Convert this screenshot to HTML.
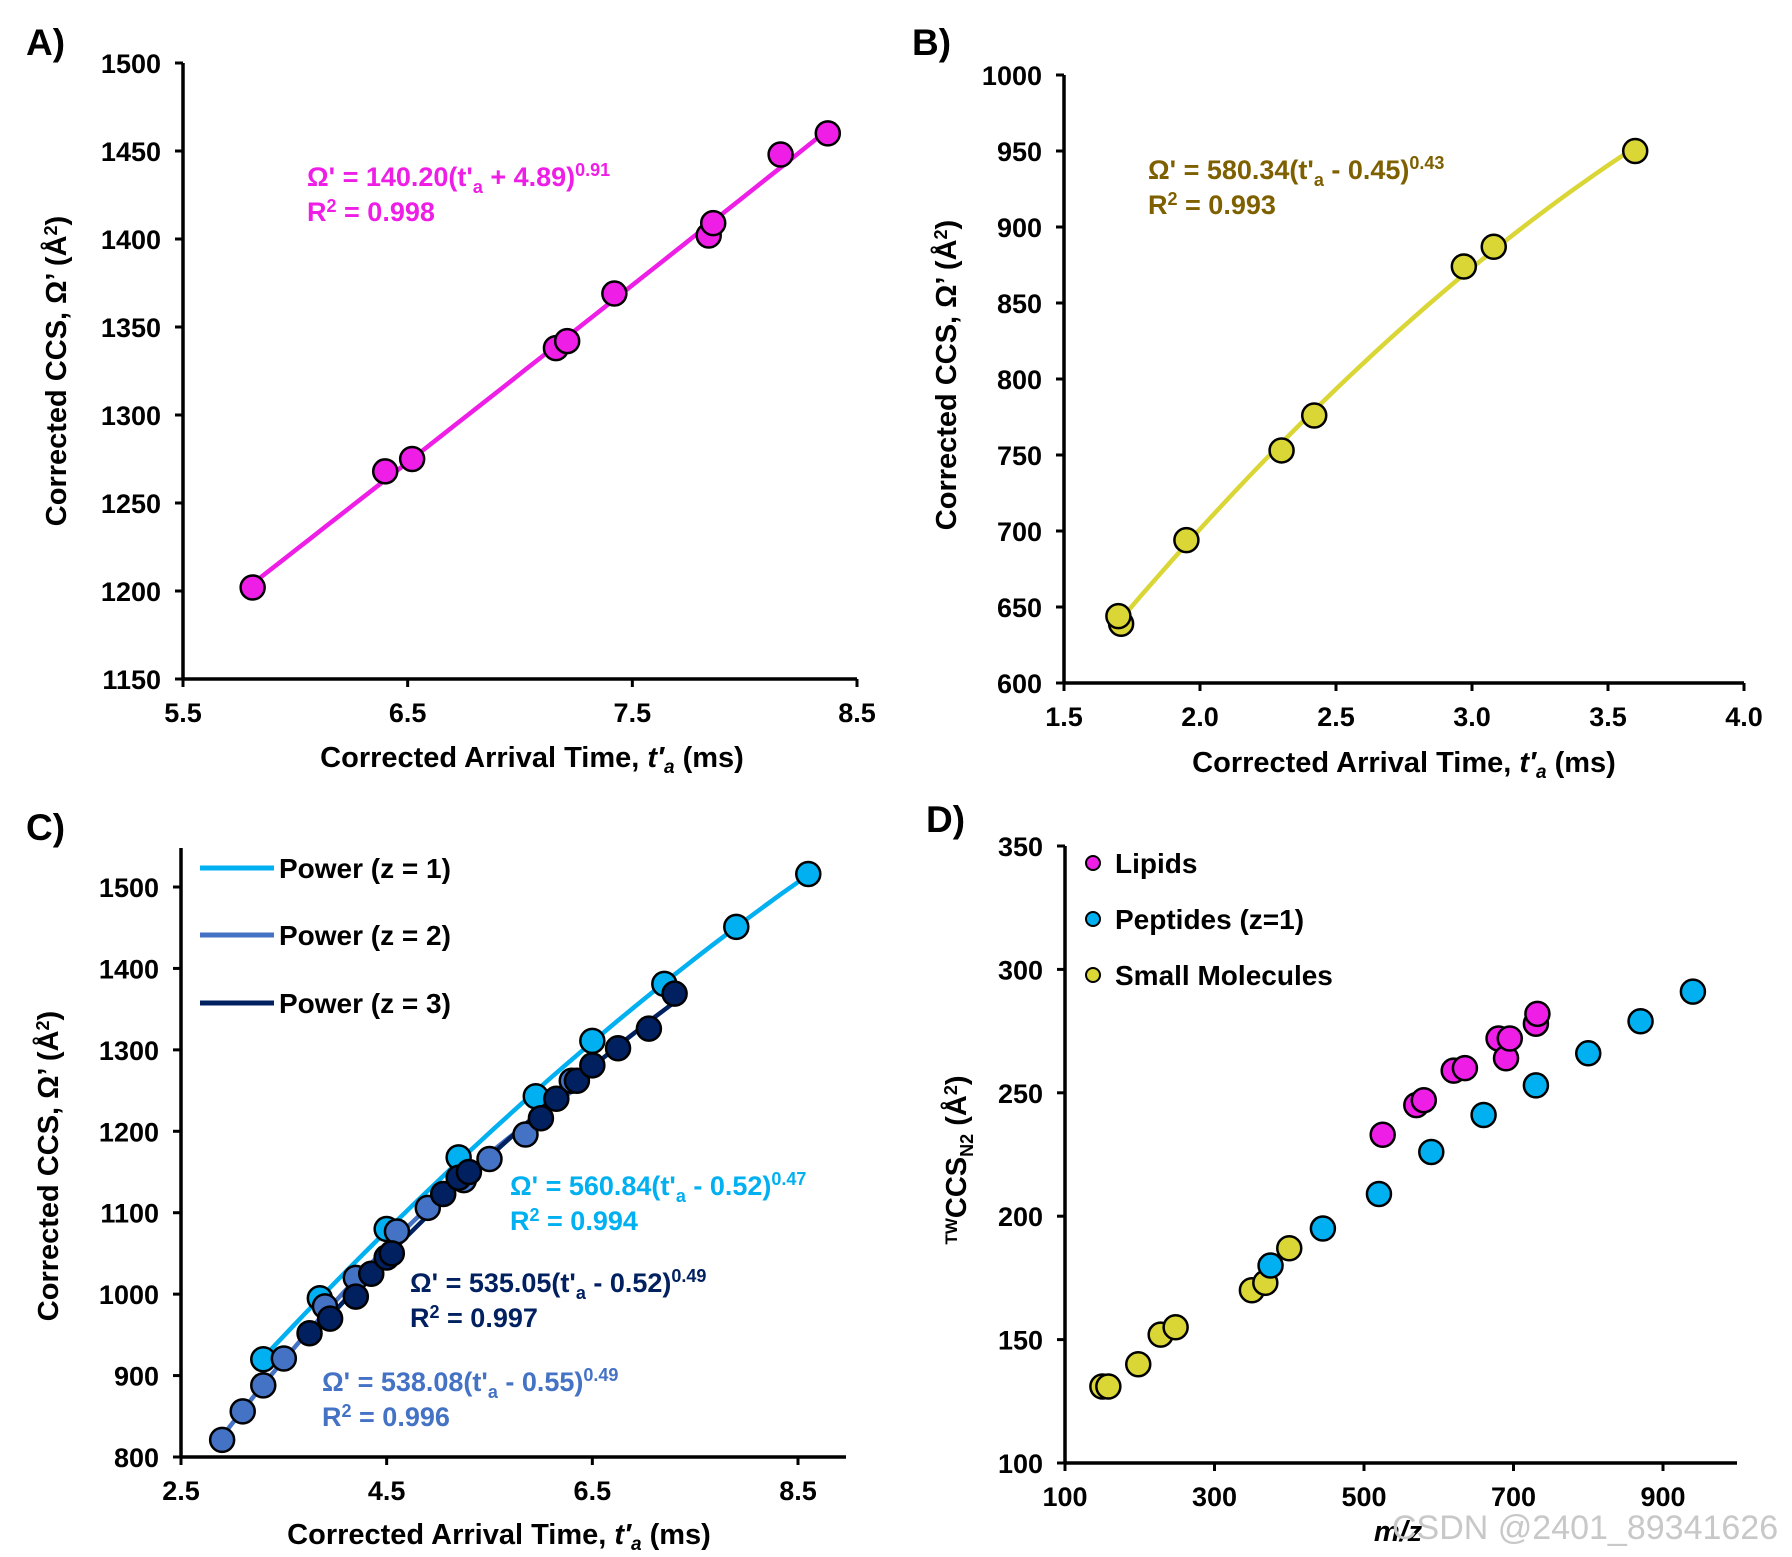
<!DOCTYPE html>
<html><head><meta charset="utf-8">
<style>
html,body{margin:0;padding:0;background:#fff;}
svg{display:block;font-family:"Liberation Sans",Arial,sans-serif;font-weight:bold;}
</style></head>
<body>
<svg id="fig" width="1792" height="1557" viewBox="0 0 1792 1557" xmlns="http://www.w3.org/2000/svg"></svg>
<script>
// ---- Data ----
const aX = [5.81,6.40,6.52,7.16,7.21,7.42,7.84,7.86,8.16,8.37];
const aY = [1202,1268,1275,1338,1342,1369,1402,1409,1448,1460];
const aXTicks = ["5.5","6.5","7.5","8.5"];
const aYTicks = ["1150","1200","1250","1300","1350","1400","1450","1500"];

const bX = [1.71,1.70,1.95,2.30,2.42,2.97,3.08,3.60];
const bY = [639,644,694,753,776,874,887,950];
const bXTicks = ["1.5","2.0","2.5","3.0","3.5","4.0"];
const bYTicks = ["600","650","700","750","800","850","900","950","1000"];

const c1X = [3.3,3.85,4.5,5.2,5.95,6.5,7.2,7.9,8.6];
const c1Y = [920,995,1080,1168,1243,1311,1381,1451,1516];
const c2X = [2.9,3.1,3.3,3.5,3.9,4.2,4.6,4.9,5.25,5.5,5.85,6.3];
const c2Y = [821,856,888,921,985,1020,1077,1106,1140,1166,1196,1262];
const c3X = [3.75,3.95,4.2,4.35,4.5,4.55,5.05,5.2,5.3,6.0,6.15,6.35,6.5,6.75,7.05,7.3];
const c3Y = [952,970,997,1025,1045,1050,1123,1143,1150,1216,1240,1262,1281,1302,1326,1369];
const cXTicks = ["2.5","4.5","6.5","8.5"];
const cYTicks = ["800","900","1000","1100","1200","1300","1400","1500"];

const dLipX = [525,570,580,620,635,680,690,695,730,732];
const dLipY = [233,245,247,259,260,272,264,272,278,282];
const dPepX = [375,445,520,590,660,730,800,870,940];
const dPepY = [180,195,209,226,241,253,266,279,291];
const dSmX = [150,158,198,228,248,350,368,400];
const dSmY = [131,131,140,152,155,170,173,187];
const dXTicks = ["100","300","500","700","900"];
const dYTicks = ["100","150","200","250","300","350"];

const NS="http://www.w3.org/2000/svg";
const svg=document.getElementById('fig');
function mk(tag,attrs,parent,txt){const e=document.createElementNS(NS,tag);for(const k in attrs)e.setAttribute(k,attrs[k]);if(txt!==undefined)e.textContent=txt;(parent||svg).appendChild(e);return e;}
function lin(d0,d1,r0,r1){return v=>r0+(v-d0)*(r1-r0)/(d1-d0);}
// quadratic least squares
function quadFit(xs,ys){
  const n=xs.length;const mx=xs.reduce((a,b)=>a+b,0)/n;
  let S=[0,0,0,0,0],T=[0,0,0];
  for(let i=0;i<n;i++){const u=xs[i]-mx;let p=1;for(let k=0;k<5;k++){S[k]+=p;if(k<3)T[k]+=p*ys[i];p*=u;}}
  const M=[[S[0],S[1],S[2],T[0]],[S[1],S[2],S[3],T[1]],[S[2],S[3],S[4],T[2]]];
  for(let c=0;c<3;c++){for(let r=c+1;r<3;r++){const f=M[r][c]/M[c][c];for(let k=c;k<4;k++)M[r][k]-=f*M[c][k];}}
  const s=[0,0,0];for(let r=2;r>=0;r--){let v=M[r][3];for(let k=r+1;k<3;k++)v-=M[r][k]*s[k];s[r]=v/M[r][r];}
  return x=>{const u=x-mx;return s[0]+s[1]*u+s[2]*u*u;};
}

function axes(g,name,X,Y,xt,yt,x0,y0,xEnd,yTop){
  mk('line',{x1:X(x0),y1:Y(y0)+1.5,x2:X(x0),y2:yTop,stroke:'#000','stroke-width':3.5},g);
  mk('line',{x1:X(x0)-1.5,y1:Y(y0),x2:xEnd,y2:Y(y0),stroke:'#000','stroke-width':3.5},g);
  xt.forEach(t=>{const v=parseFloat(t);
    mk('line',{x1:X(v),y1:Y(y0),x2:X(v),y2:Y(y0)+8,stroke:'#000','stroke-width':3},g);
    const e=mk('text',{x:X(v),y:Y(y0)+43,'text-anchor':'middle','font-size':27},g,t);
    
    
  });
  yt.forEach(t=>{const v=parseFloat(t);
    mk('line',{x1:X(x0)-8,y1:Y(v),x2:X(x0),y2:Y(v),stroke:'#000','stroke-width':3},g);
    const e=mk('text',{x:X(x0)-22,y:Y(v)+10,'text-anchor':'end','font-size':27},g,t);
    
    
  });
}
function pts(g,name,xs,ys,X,Y,fill,r){
  xs.forEach((x,i)=>{const c=mk('circle',{cx:X(x),cy:Y(ys[i]),r:r||12,fill:fill,stroke:'#000','stroke-width':2.5},g);
    
    
  });
}
function fit(g,name,xs,ys,X,Y,col,w){
  const f=quadFit(xs,ys);const lo=Math.min(...xs),hi=Math.max(...xs);
  let d='';for(let i=0;i<=40;i++){const x=lo+(hi-lo)*i/40;d+=(i?'L':'M')+X(x).toFixed(1)+','+Y(f(x)).toFixed(1);}
  const l=mk('path',{d:d,fill:'none',stroke:col,'stroke-width':w||4.5},g);
  
  
}
function label(txt,x,y,name){const e=mk('text',{x:x,y:y,'font-size':37},svg,txt);}
function ytitle(g,html,cx,cy,name){const e=mk('text',{transform:`translate(${cx},${cy}) rotate(-90)`,'text-anchor':'middle','font-size':29},g);e.innerHTML=html;}
function xtitle(g,html,cx,cy,name){const e=mk('text',{x:cx,y:cy,'text-anchor':'middle','font-size':29},g);e.innerHTML=html;}
function eq(g,lines,x,y,col,name){const e=mk('text',{x:x,y:y,'font-size':27,fill:col},g);e.innerHTML=lines[0];
  const r=mk('text',{x:x,y:y+35,'font-size':27,fill:col},g);r.innerHTML=lines[1];}
const XT='Corrected Arrival Time, <tspan font-style="italic">t\u2032</tspan><tspan font-style="italic" font-size="19" dy="6">a</tspan><tspan dy="-6"> (ms)</tspan>';
const YT='Corrected CCS, \u03A9\u2019 (\u00C5<tspan font-size="18" dy="-9">2</tspan><tspan dy="9">)</tspan>';
function eqs(a,b,p){return [`\u03A9' = ${a}(t'<tspan font-size="18" dy="7">a</tspan><tspan dy="-7"> ${b})</tspan><tspan font-size="18" dy="-10">${p}</tspan>`,`R<tspan font-size="18" dy="-9">2</tspan><tspan dy="9"> = </tspan>`];}

// Panel A
let g=mk('g',{});
let X=lin(5.5,8.5,183,857),Y=lin(1150,1500,679,63);
axes(g,'panel-a',X,Y,aXTicks,aYTicks,5.5,1150,857,63);
fit(g,'panel-a-fit-line',aX,aY,X,Y,'#ee1ee6');
pts(g,'panel-a-point',aX,aY,X,Y,'#ee1ee6');
let e=eqs('140.20','+ 4.89','0.91');e[1]+='0.998';eq(g,e,307,186,'#ee1ee6','panel-a');
xtitle(g,XT,532,767,'panel-a-x-title');ytitle(g,YT,66,371,'panel-a-y-title');
label('A)',26,55,'panel-a-label');

// Panel B
g=mk('g',{});
X=lin(1.5,4.0,1064,1744);Y=lin(600,1000,683,75);
axes(g,'panel-b',X,Y,bXTicks,bYTicks,1.5,600,1744,75);
fit(g,'panel-b-fit-line',bX,bY,X,Y,'#d9d636');
pts(g,'panel-b-point',bX,bY,X,Y,'#d9d636');
e=eqs('580.34','- 0.45','0.43');e[1]+='0.993';eq(g,e,1148,179,'#7f6000','panel-b');
xtitle(g,XT,1404,772,'panel-b-x-title');ytitle(g,YT,956,375,'panel-b-y-title');
label('B)',912,55,'panel-b-label');

// Panel C
g=mk('g',{});
X=lin(2.5,8.5,181,798);Y=lin(800,1500,1457,887);
axes(g,'panel-c',X,Y,cXTicks,cYTicks,2.5,800,846,848);
fit(g,'panel-c-fit-z1',c1X,c1Y,X,Y,'#00b0f0');
fit(g,'panel-c-fit-z2',c2X,c2Y,X,Y,'#4472c4');
fit(g,'panel-c-fit-z3',c3X,c3Y,X,Y,'#002060');
pts(g,'panel-c-point-z1',c1X,c1Y,X,Y,'#00b0f0');
pts(g,'panel-c-point-z2',c2X,c2Y,X,Y,'#4472c4');
pts(g,'panel-c-point-z3',c3X,c3Y,X,Y,'#002060');
[['Power (z = 1)','#00b0f0',868],['Power (z = 2)','#4472c4',935],['Power (z = 3)','#002060',1003]].forEach((l,i)=>{
  const lg=mk('g',{},g);
  mk('line',{x1:200,y1:l[2],x2:274,y2:l[2],stroke:l[1],'stroke-width':5},lg);
  mk('text',{x:279,y:l[2]+10,'font-size':28},lg,l[0]);
});
e=eqs('560.84','- 0.52','0.47');e[1]+='0.994';eq(g,e,510,1195,'#00b0f0','panel-c-z1');
e=eqs('535.05','- 0.52','0.49');e[1]+='0.997';eq(g,e,410,1292,'#002060','panel-c-z3');
e=eqs('538.08','- 0.55','0.49');e[1]+='0.996';eq(g,e,322,1391,'#4472c4','panel-c-z2');
xtitle(g,XT,499,1544,'panel-c-x-title');ytitle(g,YT,58,1166,'panel-c-y-title');
label('C)',26,840,'panel-c-label');

// Panel D
g=mk('g',{});
X=lin(100,900,1065,1663);Y=lin(100,350,1463,846);
axes(g,'panel-d',X,Y,dXTicks,dYTicks,100,100,1737,846);
pts(g,'panel-d-point-small-molecule',dSmX,dSmY,X,Y,'#d9d636');
pts(g,'panel-d-point-peptide',dPepX,dPepY,X,Y,'#00b0f0');
pts(g,'panel-d-point-lipid',dLipX,dLipY,X,Y,'#ee1ee6');
[['Lipids','#ee1ee6',863],['Peptides (z=1)','#00b0f0',919],['Small Molecules','#d9d636',975]].forEach((l,i)=>{
  const lg=mk('g',{},g);
  mk('circle',{cx:1093,cy:l[2],r:7,fill:l[1],stroke:'#000','stroke-width':2},lg);
  mk('text',{x:1115,y:l[2]+10,'font-size':28},lg,l[0]);
});
xtitle(g,'<tspan font-style="italic">m/z</tspan>',1398,1541,'panel-d-x-title');
ytitle(g,'<tspan font-size="17" dy="-9">TW</tspan><tspan dy="9">CCS</tspan><tspan font-size="18" dy="7">N2</tspan><tspan dy="-7"> (\u00C5</tspan><tspan font-size="18" dy="-9">2</tspan><tspan dy="9">)</tspan>',966,1160,'panel-d-y-title');
label('D)',926,832,'panel-d-label');

const wm=mk('text',{x:1392,y:1539,'font-size':34,'font-weight':'normal',fill:'#c8c8c8'},svg,'CSDN @2401_89341626');


</script>
</body></html>
